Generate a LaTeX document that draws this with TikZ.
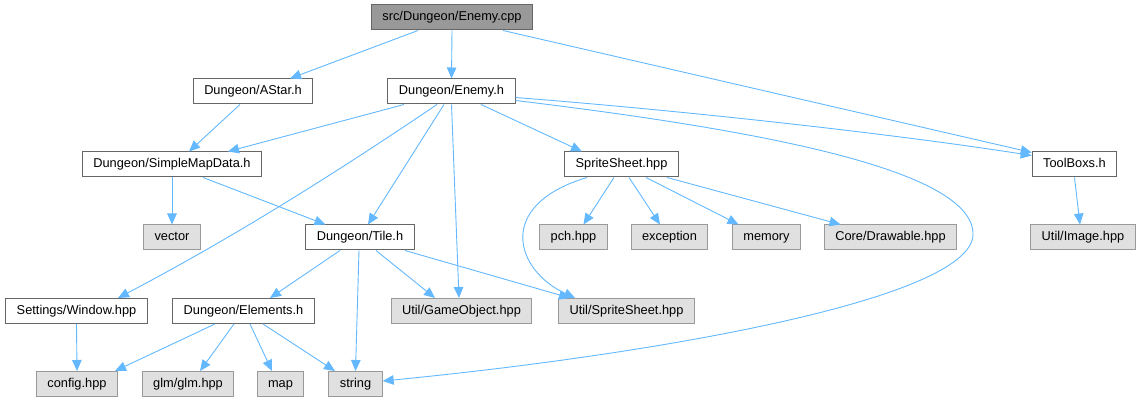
\documentclass[tikz,border=0pt]{standalone}
\usepackage{fontspec}
\setmainfont{Liberation Sans}
\usetikzlibrary{arrows.meta}
\definecolor{edgeblue}{HTML}{63B8FF}
\definecolor{sysfill}{HTML}{E0E0E0}
\begin{document}
\begin{tikzpicture}[x=1pt,y=-1pt,
    box/.style={draw=black!60, line width=1pt, fill=white, minimum height=25pt,
      inner xsep=11pt, inner ysep=0pt, text height=9.5pt, text depth=2.5pt,
      font=\fontsize{12.8}{15}\selectfont},
    root/.style={box, fill=black!40},
    sys/.style={box, draw=black!40, fill=sysfill},
    dep/.style={draw=edgeblue, line width=0.9pt, -{Triangle[length=11pt,width=9.5pt]}}]
    \useasboundingbox (0,0) rectangle (1143,403);
    % Files
    \node[root] (cpp) at (452,17.5) {src/Dungeon/Enemy.cpp};
    \node[box] (astar) at (253,91.5) {Dungeon/AStar.h};
    \node[box] (enemyh) at (451.5,91.5) {Dungeon/Enemy.h};
    \node[box] (smd) at (172,164.5) {Dungeon/SimpleMapData.h};
    \node[box] (sprite) at (621.5,164.5) {SpriteSheet.hpp};
    \node[box] (toolbox) at (1074.5,164.5) {ToolBoxs.h};
    \node[sys] (vector) at (172,237.5) {vector};
    \node[box] (tile) at (360,237.5) {Dungeon/Tile.h};
    \node[sys] (pch) at (573.5,237.5) {pch.hpp};
    \node[sys] (exception) at (669.5,237.5) {exception};
    \node[sys] (memory) at (766.5,237.5) {memory};
    \node[sys] (drawable) at (890.5,237.5) {Core/Drawable.hpp};
    \node[sys] (image) at (1083,237.5) {Util/Image.hpp};
    \node[box] (window) at (76.5,311) {Settings/Window.hpp};
    \node[box] (elements) at (243.5,311) {Dungeon/Elements.h};
    \node[sys] (gameobj) at (461.5,311) {Util/GameObject.hpp};
    \node[sys] (utilsprite) at (626.5,311) {Util/SpriteSheet.hpp};
    \node[sys] (config) at (77,384) {config.hpp};
    \node[sys] (glm) at (188,384) {glm/glm.hpp};
    \node[sys] (map) at (280.5,384) {map};
    \node[sys] (string) at (355.5,384) {string};
    % Enemy.cpp
    \draw[dep] ([xshift=-34pt]cpp.south) -- ([xshift=37pt]astar.north);
    \draw[dep] (cpp.south) -- (enemyh.north);
    \draw[dep] ([xshift=51pt]cpp.south) -- ([yshift=-1pt]toolbox.north west);
    \draw[dep] ([xshift=-13pt]astar.south) -- ([xshift=17pt]smd.north);
    % Enemy.h
    \draw[dep] ([xshift=-47.5pt]enemyh.south) -- ([xshift=56pt]smd.north);
    \draw[dep] ([xshift=-14.5pt]enemyh.south) .. controls (343,168) and (241.5,233) .. ([xshift=41.5pt]window.north);
    \draw[dep] ([xshift=-7.5pt]enemyh.south) -- ([xshift=8pt]tile.north);
    \draw[dep] (enemyh.south) -- ([xshift=-2.5pt]gameobj.north);
    \draw[dep] ([xshift=29.5pt]enemyh.south) -- ([xshift=-39.5pt]sprite.north);
    \draw[dep] ([yshift=-6pt]enemyh.east) .. controls (700,112) and (900,135) .. ([yshift=-4pt]toolbox.north west);
    \draw[dep] ([yshift=-9pt]enemyh.east) .. controls (760,130) and (975,170) .. (973,235)
        .. controls (970,300) and (650,355) .. ([yshift=3pt]string.east);
    % SimpleMapData.h
    \draw[dep] (smd.south) -- (vector.north);
    \draw[dep] ([xshift=31pt]smd.south) -- ([xshift=-34.5pt]tile.north);
    % SpriteSheet.hpp
    \draw[dep] ([xshift=-7.5pt]sprite.south) -- ([xshift=10pt]pch.north);
    \draw[dep] ([xshift=7.5pt]sprite.south) -- ([xshift=-9.5pt]exception.north);
    \draw[dep] ([xshift=24.5pt]sprite.south) -- ([xshift=-28pt]memory.north);
    \draw[dep] ([xshift=45.5pt]sprite.south) -- ([xshift=-50pt]drawable.north);
    \draw[dep] ([xshift=-34.5pt]sprite.south) .. controls (495,205) and (515,270) .. ([xshift=-51.5pt]utilsprite.north);
    \draw[dep] (toolbox.south) -- ([xshift=-3pt]image.north);
    % Tile.h
    \draw[dep] ([xshift=-20pt]tile.south) -- ([xshift=26.5pt]elements.north);
    \draw[dep] ([xshift=-1pt]tile.south) -- (string.north);
    \draw[dep] ([xshift=16pt]tile.south) -- ([xshift=-26.5pt]gameobj.north);
    \draw[dep] ([xshift=45pt]tile.south) -- ([xshift=-56.5pt]utilsprite.north);
    % Window.hpp and Elements.h
    \draw[dep] (window.south) -- (config.north);
    \draw[dep] ([xshift=-28.5pt]elements.south) -- ([xshift=38pt]config.north);
    \draw[dep] ([xshift=-9.5pt]elements.south) -- ([xshift=12pt]glm.north);
    \draw[dep] ([xshift=6.5pt]elements.south) -- ([xshift=-8.5pt]map.north);
    \draw[dep] ([xshift=19.5pt]elements.south) -- ([xshift=-20.5pt]string.north);
\end{tikzpicture}
\end{document}
